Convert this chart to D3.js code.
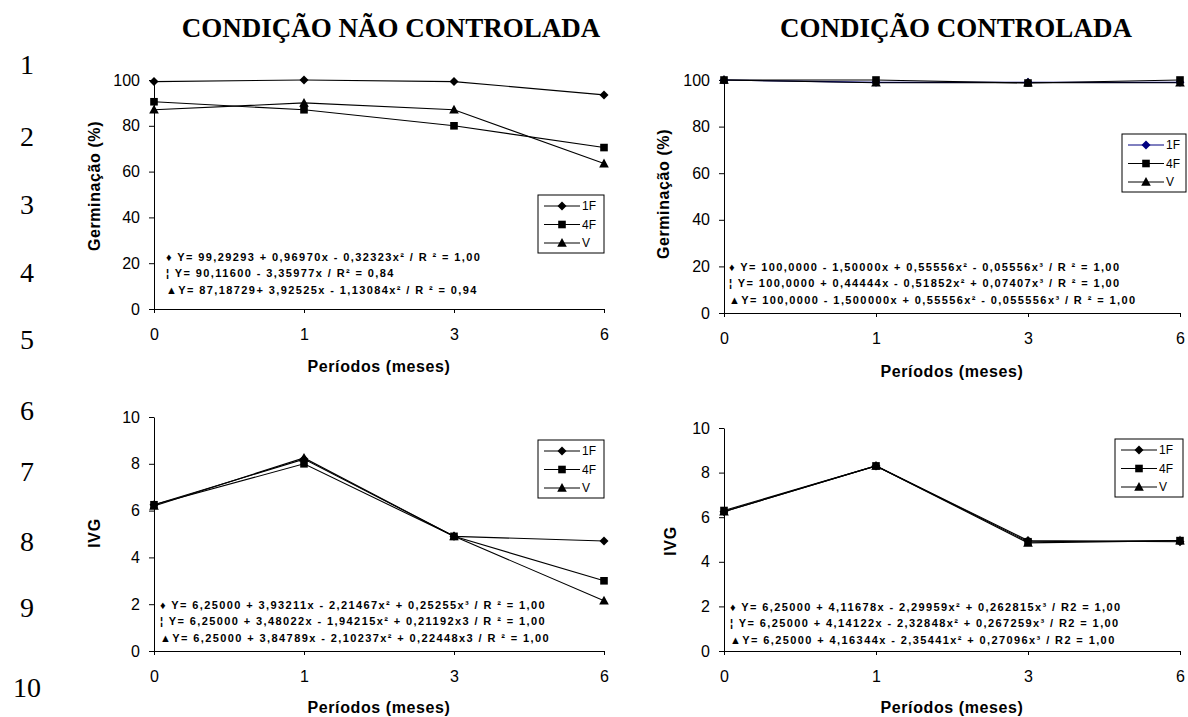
<!DOCTYPE html>
<html>
<head>
<meta charset="utf-8">
<script src="https://cdn.jsdelivr.net/npm/d3@7"></script>
<style>
body { margin: 0; background: #fff; }
svg { display: block; }
text { font-family: "Liberation Sans", Arial, sans-serif; fill: #000; }
.tick text { font-size: 16px; }
.axisTitle { font-size: 16px; font-weight: bold; letter-spacing: 0.6px; }
.eq { font-size: 11px; font-weight: bold; letter-spacing: 1.4px; }
.legendText { font-size: 12px; }
.rowNum { font-family: "Liberation Serif", "Times New Roman", serif; font-size: 28px; }
.title { font-family: "Liberation Serif", "Times New Roman", serif; font-size: 27px; font-weight: bold; }
</style>
</head>
<body>
<script>
// categories / labels
const periods = ["0", "1", "3", "6"];
const seriesNames = ["1F", "4F", "V"];
const titles = ["CONDIÇÃO NÃO CONTROLADA", "CONDIÇÃO CONTROLADA"];
const rowNumbers = ["1", "2", "3", "4", "5", "6", "7", "8", "9", "10"];
const germTicks = [0, 20, 40, 60, 80, 100];
const ivgTicks = [0, 2, 4, 6, 8, 10];

// germinação - condição não controlada
const germNC_1F = [99.3, 100, 99.3, 93.5];
const germNC_4F = [90.5, 87, 80, 70.5];
const germNC_V = [87, 90, 87, 63.5];
// germinação - condição controlada
const germC_1F = [100, 99, 99, 99];
const germC_4F = [100, 100, 98.7, 100];
const germC_V = [100, 98.8, 98.8, 98.8];
// IVG - condição não controlada
const ivgNC_1F = [6.25, 8.2, 4.9, 4.7];
const ivgNC_4F = [6.25, 8.0, 4.9, 3.0];
const ivgNC_V = [6.2, 8.25, 4.9, 2.15];
// IVG - condição controlada
const ivgC_1F = [6.25, 8.3, 4.95, 4.9];
const ivgC_4F = [6.3, 8.3, 4.9, 4.95];
const ivgC_V = [6.25, 8.3, 4.85, 4.95];

// regression equations shown in each panel
const eqGermNC = [
    "\u2666 Y= 99,29293 + 0,96970x - 0,32323x\u00b2 / R \u00b2 = 1,00",
    "\u00a6 Y= 90,11600 - 3,35977x / R\u00b2 = 0,84",
    "\u25b2Y= 87,18729+ 3,92525x - 1,13084x\u00b2 / R \u00b2 = 0,94"
];
const eqGermC = [
    "\u2666 Y= 100,0000 - 1,50000x + 0,55556x\u00b2 - 0,05556x\u00b3 / R \u00b2 = 1,00",
    "\u00a6 Y= 100,0000 + 0,44444x - 0,51852x\u00b2 + 0,07407x\u00b3 / R \u00b2 = 1,00",
    "\u25b2Y= 100,0000 - 1,500000x + 0,55556x\u00b2 - 0,055556x\u00b3 / R \u00b2 = 1,00"
];
const eqIvgNC = [
    "\u2666 Y= 6,25000 + 3,93211x - 2,21467x\u00b2 + 0,25255x\u00b3 / R \u00b2 = 1,00",
    "\u00a6 Y= 6,25000 + 3,48022x - 1,94215x\u00b2 + 0,21192x3 / R \u00b2 = 1,00",
    "\u25b2Y= 6,25000 + 3,84789x - 2,10237x\u00b2 + 0,22448x3 / R \u00b2 = 1,00"
];
const eqIvgC = [
    "\u2666 Y= 6,25000 + 4,11678x - 2,29959x\u00b2 + 0,262815x\u00b3 / R2 = 1,00",
    "\u00a6 Y= 6,25000 + 4,14122x - 2,32848x\u00b2 + 0,267259x\u00b3 / R2 = 1,00",
    "\u25b2Y= 6,25000 + 4,16344x - 2,35441x\u00b2 + 0,27096x\u00b3 / R2 = 1,00"
];

var svg = d3.select("body").append("svg")
    .attr("width", 1188)
    .attr("height", 717);

// marker shapes: diamond, square, triangle
function markerPath(i) {
    if (i == 0) return "M0,-4.5L4.5,0L0,4.5L-4.5,0Z";
    if (i == 1) return "M-3.8,-3.8H3.8V3.8H-3.8Z";
    return "M0,-5L4.8,3.8L-4.8,3.8Z";
}

var panels = [
    { x0: 154, x1: 604, yTop: 80, yBot: 309, max: 100, ticks: germTicks, yLabel: "Germinação (%)",
      yLabelX: 94, yLabelY: 186, xLabelY: 372,
      series: [germNC_1F, germNC_4F, germNC_V], colors: ["#000", "#000", "#000"],
      eq: eqGermNC, eqX: 166, eqY: 261, legend: { x: 538, y: 195, w: 66 } },
    { x0: 724, x1: 1180, yTop: 80, yBot: 313, max: 100, ticks: germTicks, yLabel: "Germinação (%)",
      yLabelX: 663, yLabelY: 194, xLabelY: 377,
      series: [germC_1F, germC_4F, germC_V], colors: ["#000080", "#000", "#000"],
      eq: eqGermC, eqX: 729, eqY: 271, legend: { x: 1122, y: 134, w: 64 } },
    { x0: 154, x1: 604, yTop: 417, yBot: 651, max: 10, ticks: ivgTicks, yLabel: "IVG",
      yLabelX: 94, yLabelY: 533, xLabelY: 713,
      series: [ivgNC_1F, ivgNC_4F, ivgNC_V], colors: ["#000", "#000", "#000"],
      eq: eqIvgNC, eqX: 160, eqY: 609, legend: { x: 538, y: 440, w: 66 } },
    { x0: 724, x1: 1180, yTop: 428, yBot: 651, max: 10, ticks: ivgTicks, yLabel: "IVG",
      yLabelX: 670, yLabelY: 541, xLabelY: 713,
      series: [ivgC_1F, ivgC_4F, ivgC_V], colors: ["#000", "#000", "#000"],
      eq: eqIvgC, eqX: 730, eqY: 611, legend: { x: 1115, y: 439, w: 68 } }
];

panels.forEach(function(p) {
    var xScale = d3.scalePoint().domain(periods).range([p.x0, p.x1]);
    var yScale = d3.scaleLinear().domain([0, p.max]).range([p.yBot, p.yTop]);
    var g = svg.append("g");

    // axes
    g.append("g")
        .attr("transform", "translate(" + p.x0 + ",0)")
        .call(d3.axisLeft(yScale).tickValues(p.ticks).tickSize(5).tickSizeOuter(0).tickPadding(9))
        .call(function(a) { a.selectAll("path, line").attr("stroke", "#000"); });

    g.append("g")
        .attr("transform", "translate(0," + p.yBot + ")")
        .call(d3.axisBottom(xScale).tickSize(4).tickSizeOuter(0).tickPadding(16))
        .call(function(a) { a.selectAll("path, line").attr("stroke", "#000"); });

    // axis titles
    g.append("text")
        .attr("class", "axisTitle")
        .attr("transform", "translate(" + p.yLabelX + "," + p.yLabelY + ") rotate(-90)")
        .attr("text-anchor", "middle")
        .attr("dy", "0.35em")
        .text(p.yLabel);

    g.append("text")
        .attr("class", "axisTitle")
        .attr("x", (p.x0 + p.x1) / 2)
        .attr("y", p.xLabelY)
        .attr("text-anchor", "middle")
        .text("Períodos (meses)");

    // series lines + markers
    var line = d3.line()
        .x(function(d, i) { return xScale(periods[i]); })
        .y(function(d) { return yScale(d); });

    p.series.forEach(function(vals, si) {
        g.append("path")
            .attr("d", line(vals))
            .attr("fill", "none")
            .attr("stroke", p.colors[si])
            .attr("stroke-width", 1.1);
    });
    p.series.forEach(function(vals, si) {
        g.selectAll(".m" + si)
            .data(vals)
            .enter()
            .append("path")
            .attr("class", "m" + si)
            .attr("d", markerPath(si))
            .attr("transform", function(d, i) { return "translate(" + xScale(periods[i]) + "," + yScale(d) + ")"; })
            .attr("fill", p.colors[si]);
    });

    // equations
    g.selectAll(".eq")
        .data(p.eq)
        .enter()
        .append("text")
        .attr("class", "eq")
        .attr("x", p.eqX)
        .attr("y", function(d, i) { return p.eqY + i * 16.3; })
        .text(function(d) { return d; });

    // legend
    var lg = g.append("g").attr("transform", "translate(" + p.legend.x + "," + p.legend.y + ")");
    lg.append("rect")
        .attr("width", p.legend.w)
        .attr("height", 58)
        .attr("fill", "#fff")
        .attr("stroke", "#000");
    seriesNames.forEach(function(name, si) {
        var ly = 11 + si * 18.5;
        lg.append("line")
            .attr("x1", 6).attr("x2", 42)
            .attr("y1", ly).attr("y2", ly)
            .attr("stroke", p.colors[si]);
        lg.append("path")
            .attr("d", markerPath(si))
            .attr("transform", "translate(24," + ly + ")")
            .attr("fill", p.colors[si]);
        lg.append("text")
            .attr("class", "legendText")
            .attr("x", 44)
            .attr("y", ly)
            .attr("dy", "0.35em")
            .text(name);
    });
});

// titles
svg.selectAll(".title")
    .data(titles)
    .enter()
    .append("text")
    .attr("class", "title")
    .attr("x", function(d, i) { return i == 0 ? 391 : 956; })
    .attr("y", 37)
    .attr("text-anchor", "middle")
    .text(function(d) { return d; });

// line numbers down the left margin
var rowY = [65, 137, 205, 273, 340, 411, 472, 542, 608, 688];
svg.selectAll(".rowNum")
    .data(rowNumbers)
    .enter()
    .append("text")
    .attr("class", "rowNum")
    .attr("x", 27)
    .attr("y", function(d, i) { return rowY[i] + 9; })
    .attr("text-anchor", "middle")
    .text(function(d) { return d; });
</script>
</body>
</html>
